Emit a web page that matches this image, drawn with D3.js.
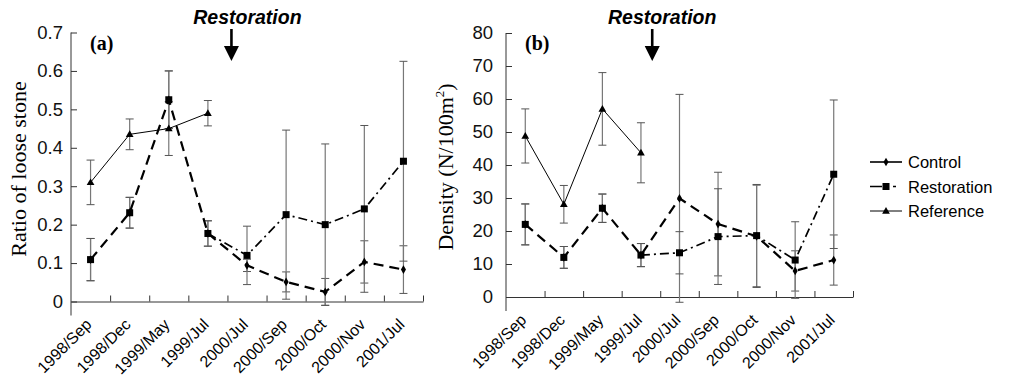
<!DOCTYPE html>
<html>
<head>
<meta charset="utf-8">
<script src="https://cdn.jsdelivr.net/npm/d3@7"></script>
<style>
  body { margin: 0; background: #fff; }
  svg text { font-family: "Liberation Sans", Arial, sans-serif; }
</style>
</head>
<body>
<div id="vis"></div>
<script>
const width = 1013;
const height = 380;

const categories = ["1998/Sep", "1998/Dec", "1999/May", "1999/Jul", "2000/Jul", "2000/Sep", "2000/Oct", "2000/Nov", "2001/Jul"];

// panel (a) ratio of loose stone
const stoneTicks = [0, 0.1, 0.2, 0.3, 0.4, 0.5, 0.6, 0.7];
const stoneControl = [0.109, 0.231, 0.525, 0.177, 0.094, 0.051, 0.025, 0.103, 0.083];
const stoneControlErr = [0.055, 0.04, 0.075, 0.033, 0.016, 0.026, 0.035, 0.055, 0.062];
const stoneRestoration = [0.109, 0.231, 0.525, 0.177, 0.12, 0.226, 0.2, 0.241, 0.365];
const stoneRestorationErr = [0.055, 0.04, 0.075, 0.033, 0.076, 0.22, 0.21, 0.217, 0.26];
const stoneReference = [0.31, 0.435, 0.45, 0.49];
const stoneReferenceErr = [0.058, 0.04, 0.07, 0.033];

// panel (b) density
const densTicks = [0, 10, 20, 30, 40, 50, 60, 70, 80];
const densControl = [22.0, 12.0, 26.9, 12.7, 29.9, 22.1, 18.4, 7.9, 11.2];
const densControlErr = [6.2, 3.3, 4.3, 3.5, 31.5, 15.7, 15.5, 6.1, 7.6];
const densRestoration = [22.0, 12.0, 26.9, 12.7, 13.4, 18.3, 18.6, 11.2, 37.2];
const densRestorationErr = [6.2, 3.3, 4.3, 3.5, 6.4, 14.5, 15.5, 11.6, 22.5];
const densReference = [48.8, 28.1, 57.0, 43.7];
const densReferenceErr = [8.2, 5.7, 11.0, 9.1];

const legendNames = ["Control", "Restoration", "Reference"];

const svg = d3.select("#vis")
  .append("svg")
  .attr("width", width)
  .attr("height", height)
  .style("background-color", "#fff");

const styles = {
  Control: { dash: "10,6", sw: 2.2 },
  Restoration: { dash: "9,4,2,4", sw: 1.7 },
  Reference: { dash: null, sw: 1 }
};

function marker(g, type, x, y) {
  if (type === "Control") {
    g.append("path").attr("d", d3.symbol(d3.symbolDiamond, 22)())
      .attr("transform", `translate(${x},${y})`).attr("fill", "#000");
  } else if (type === "Restoration") {
    g.append("rect").attr("x", x - 3.5).attr("y", y - 3.5)
      .attr("width", 7).attr("height", 7).attr("fill", "#000");
  } else {
    g.append("path").attr("d", d3.symbol(d3.symbolTriangle, 26)())
      .attr("transform", `translate(${x},${y + 0.5})`).attr("fill", "#000");
  }
}

function drawPanel(p) {
  const g = svg.append("g");
  const x = d3.scaleBand().domain(categories).range([p.x0, p.x1]);
  const edge = d3.scaleLinear().domain([0, categories.length]).range([p.x0, p.x1]);
  const y = d3.scaleLinear().domain([0, p.max]).range([p.y0, p.y1]);
  const cx = d => x(d) + x.bandwidth() / 2;

  // y axis
  const yAxis = g.append("g")
    .attr("transform", `translate(${p.x0},0)`)
    .call(d3.axisLeft(y).tickValues(p.ticks).tickSize(-6).tickSizeOuter(0).tickPadding(p.pad).tickFormat(p.fmt));
  yAxis.select(".domain").remove();
  yAxis.selectAll("line").attr("stroke", "#333");
  yAxis.selectAll("text").attr("font-size", 18.5).attr("fill", "#111")
    .style("font-family", "Liberation Sans, Arial, sans-serif");
  g.append("line").attr("x1", p.x0).attr("x2", p.x0)
    .attr("y1", y(p.max)).attr("y2", p.y0 + 14).attr("stroke", "#333");

  // x axis
  const xAxis = g.append("g")
    .attr("transform", `translate(0,${p.y0})`)
    .call(d3.axisBottom(edge).tickValues(d3.range(1, categories.length + 1)).tickSize(-6).tickSizeOuter(0).tickFormat(""));
  xAxis.selectAll("line, path").attr("stroke", "#333");

  g.selectAll(".xlab")
    .data(categories)
    .enter()
    .append("text")
    .attr("class", "xlab")
    .attr("text-anchor", "end")
    .attr("font-size", 16)
    .attr("transform", d => `translate(${cx(d) + 2},${p.y0 + 24}) rotate(-45)`)
    .text(d => d);

  // error bars
  const series = [
    { name: "Control", vals: p.control, errs: p.controlErr, from: 0 },
    { name: "Restoration", vals: p.restoration, errs: p.restorationErr, from: 3 },
    { name: "Reference", vals: p.reference, errs: p.referenceErr, from: 0 }
  ];
  series.forEach(s => {
    s.vals.forEach((v, i) => {
      const px = cx(categories[i]);
      const top = y(v + s.errs[i]);
      const bot = y(v - s.errs[i]);
      g.append("line").attr("x1", px).attr("x2", px).attr("y1", top).attr("y2", bot)
        .attr("stroke", "#777").attr("stroke-width", 1.2);
      [top, bot].forEach(yy => g.append("line")
        .attr("x1", px - 4).attr("x2", px + 4).attr("y1", yy).attr("y2", yy)
        .attr("stroke", "#555").attr("stroke-width", 1));
    });
  });

  // lines + markers
  const line = d3.line().x(d => cx(categories[d.i])).y(d => y(d.v));
  [series[1], series[0], series[2]].forEach(s => {
    const pts = s.vals.map((v, i) => ({ v, i })).filter(d => d.i >= s.from);
    g.append("path")
      .attr("d", line(pts))
      .attr("fill", "none")
      .attr("stroke", "#000")
      .attr("stroke-width", styles[s.name].sw)
      .attr("stroke-dasharray", styles[s.name].dash);
  });
  [series[0], series[1], series[2]].forEach(s => {
    s.vals.forEach((v, i) => marker(g, s.name, cx(categories[i]), y(v)));
  });

  // panel label
  g.append("text").attr("x", p.x0 + 19).attr("y", 50)
    .style("font-family", "Liberation Serif, Times New Roman, serif")
    .attr("font-weight", "bold").attr("font-size", 20).text(p.label);

  // y title
  const t = g.append("text")
    .attr("transform", `translate(${p.titleX},${p.titleY}) rotate(-90)`)
    .attr("text-anchor", "middle")
    .style("font-family", "Liberation Serif, Times New Roman, serif")
    .attr("font-size", 22);
  t.append("tspan").text(p.title);
  if (p.sup) {
    t.append("tspan").attr("font-size", 13).attr("dy", -9).text(p.sup);
    t.append("tspan").attr("dy", 9).text(")");
  }

  // restoration arrow
  const ax = edge(4) + p.arrowDx;
  g.append("text").attr("x", ax + p.textDx).attr("y", 24)
    .attr("text-anchor", "middle").attr("font-weight", "bold").attr("font-style", "italic")
    .attr("font-size", 19.5).text("Restoration");
  g.append("line").attr("x1", ax).attr("x2", ax).attr("y1", 29).attr("y2", 48)
    .attr("stroke", "#000").attr("stroke-width", 2.6);
  g.append("path").attr("d", `M${ax - 7.5},46 L${ax + 7.5},46 L${ax},61 Z`).attr("fill", "#000");
}

drawPanel({
  x0: 71, x1: 423, y0: 301.5, y1: 32.5, max: 0.7, ticks: stoneTicks, pad: 8,
  fmt: d => d === 0 ? "0" : d3.format(".1f")(d),
  control: stoneControl, controlErr: stoneControlErr,
  restoration: stoneRestoration, restorationErr: stoneRestorationErr,
  reference: stoneReference, referenceErr: stoneReferenceErr,
  label: "(a)", title: "Ratio of loose stone", titleX: 26, titleY: 169,
  arrowDx: 4, textDx: 16
});

drawPanel({
  x0: 506, x1: 853, y0: 297, y1: 33, max: 80, ticks: densTicks, pad: 13,
  fmt: d3.format("d"),
  control: densControl, controlErr: densControlErr,
  restoration: densRestoration, restorationErr: densRestorationErr,
  reference: densReference, referenceErr: densReferenceErr,
  label: "(b)", title: "Density (N/100m", sup: "2", titleX: 453, titleY: 167,
  arrowDx: -8, textDx: 10
});

// legend
const legend = svg.append("g");
legendNames.forEach((name, i) => {
  const ly = 162 + i * 24.5;
  legend.append("line").attr("x1", 870).attr("x2", 902).attr("y1", ly).attr("y2", ly)
    .attr("stroke", "#000").attr("stroke-width", name === "Reference" ? 1 : 1.6)
    .attr("stroke-dasharray", name === "Restoration" ? "12,4,3,4,3" : null);
  marker(legend, name, 886, ly);
  legend.append("text").attr("x", 908).attr("y", ly + 6).attr("font-size", 16.5).text(name);
});
</script>
</body>
</html>
